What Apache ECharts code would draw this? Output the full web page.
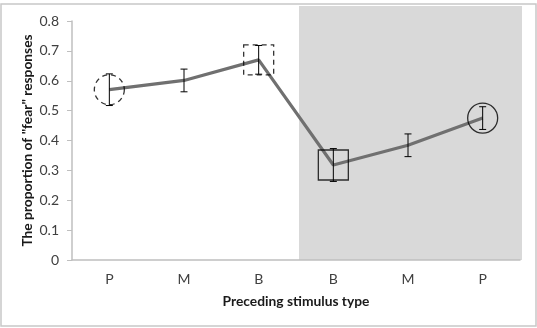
<!DOCTYPE html>
<html><head><meta charset="utf-8">
<script src="https://cdn.jsdelivr.net/npm/echarts@6/dist/echarts.min.js"></script>
<style>html,body{margin:0;padding:0;background:#fff}#c{width:537px;height:328px}</style>
</head><body><div id="c"></div>
<script>
const categories = ['P', 'M', 'B', 'B', 'M', 'P'];
const means = [0.570, 0.601, 0.670, 0.318, 0.384, 0.475];
const errors = [0.053, 0.038, 0.048, 0.055, 0.038, 0.038];
const yTicks = [0, 0.1, 0.2, 0.3, 0.4, 0.5, 0.6, 0.7, 0.8];
const markerShapes = ['circle', null, 'rect', 'rect', null, 'circle'];
const markerDashed = [true, false, true, false, false, false];

const FONT = 'Lato, "Open Sans", sans-serif';
const chart = echarts.init(document.getElementById('c'), null, {renderer: 'canvas'});

const errData = means.map((m, i) => [i, m - errors[i], m + errors[i]]);
const markerData = [];
means.forEach((m, i) => {
  if (markerShapes[i]) markerData.push({
    value: [i, m], symbol: markerShapes[i],
    itemStyle: {color: 'rgba(0,0,0,0)', borderColor: '#000', borderWidth: 1.3, borderType: markerDashed[i] ? [5, 4] : 'solid'}
  });
});

chart.setOption({
  animation: false,
  grid: {left: 72, right: 17, top: 21, bottom: 68},
  xAxis: {
    type: 'category', data: categories, boundaryGap: true,
    axisLine: {lineStyle: {color: '#bfbfbf', width: 1.5}},
    axisTick: {show: false},
    axisLabel: {color: '#404040', fontSize: 14, fontFamily: FONT, margin: 12},
    name: 'Preceding stimulus type', nameLocation: 'middle', nameGap: 35,
    nameTextStyle: {color: '#1a1a1a', fontSize: 13.8, fontWeight: 'bold', fontFamily: FONT}
  },
  yAxis: {
    type: 'value', min: yTicks[0], max: yTicks[yTicks.length - 1], interval: 0.1,
    splitLine: {show: false},
    axisLine: {show: true, lineStyle: {color: '#bfbfbf', width: 1.5}},
    axisTick: {show: true, length: 5, lineStyle: {color: '#bfbfbf'}},
    axisLabel: {color: '#404040', fontSize: 14, fontFamily: FONT, margin: 13,
      formatter: v => (Math.round(v * 10) / 10).toString()},
    name: 'The proportion of "fear" responses', nameLocation: 'middle', nameGap: 37,
    nameMoveOverlap: false,
    nameTextStyle: {color: '#1a1a1a', fontSize: 13.8, fontWeight: 'bold', fontFamily: FONT}
  },
  series: [
    {type: 'line', data: means, symbol: 'none', z: 3,
      lineStyle: {color: '#707070', width: 3.2}},
    {type: 'custom', z: 4, data: errData,
      renderItem: function (params, api) {
        const x = api.value(0);
        const lo = api.coord([x, api.value(1)]);
        const hi = api.coord([x, api.value(2)]);
        const c = 3.5;
        const st = {stroke: '#000', lineWidth: 1};
        return {type: 'group', children: [
          {type: 'line', shape: {x1: lo[0], y1: lo[1], x2: hi[0], y2: hi[1]}, style: st},
          {type: 'line', shape: {x1: lo[0] - c, y1: lo[1], x2: lo[0] + c, y2: lo[1]}, style: st},
          {type: 'line', shape: {x1: hi[0] - c, y1: hi[1], x2: hi[0] + c, y2: hi[1]}, style: st}
        ]};
      }},
    {type: 'scatter', z: 5, data: markerData, symbolSize: 30, silent: true}
  ]
});

function drawGraphics() {
  const x3 = chart.convertToPixel({xAxisIndex: 0}, 3);
  const x2 = chart.convertToPixel({xAxisIndex: 0}, 2);
  const band = x3 - x2;
  const left = x3 - band / 2 + 3;
  const right = chart.convertToPixel({xAxisIndex: 0}, 5) + band / 2 + 2;
  const top = chart.convertToPixel({yAxisIndex: 0}, 0.85);
  const bottom = chart.convertToPixel({yAxisIndex: 0}, 0);
  chart.setOption({graphic: [
    {type: 'rect', z: -10, silent: true, shape: {x: left, y: top, width: right - left, height: bottom - top},
      style: {fill: '#d9d9d9'}},
    {type: 'rect', z: -20, silent: true, shape: {x: 1, y: 4, width: 535, height: 322},
      style: {fill: 'none', stroke: '#c8c8c8', lineWidth: 1.5}}
  ]});
}
drawGraphics();
</script></body></html>
